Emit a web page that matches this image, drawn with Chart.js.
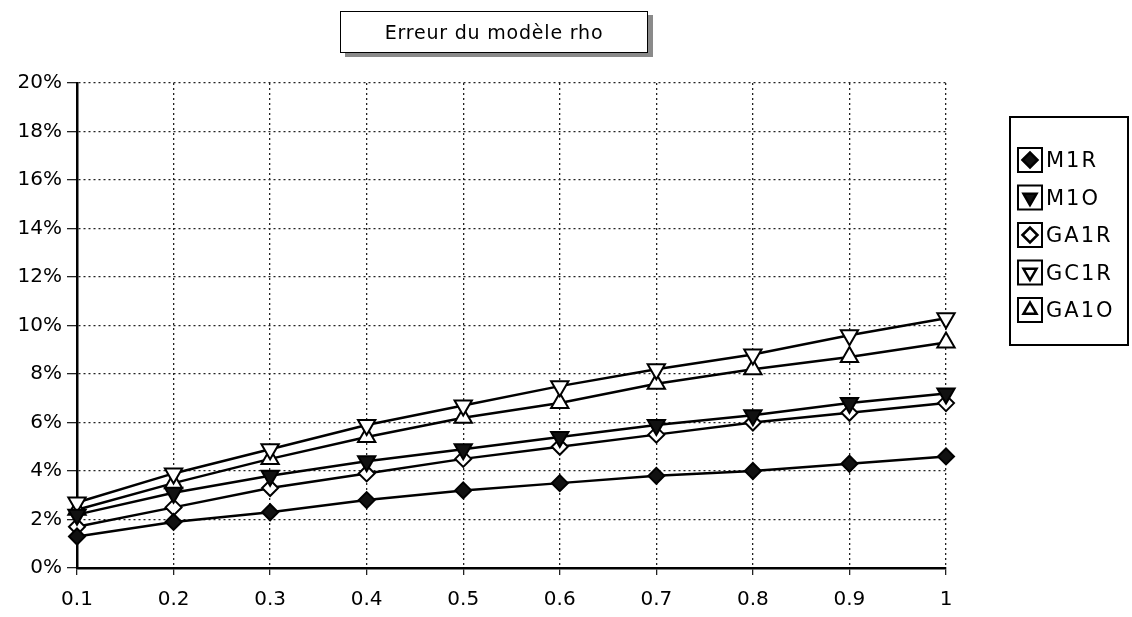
<!DOCTYPE html>
<html>
<head>
<meta charset="utf-8">
<script src="https://cdn.jsdelivr.net/npm/chart.js@4.4.0/dist/chart.umd.min.js"></script>
<style>
  body { margin: 0; background: #fff; }
  #wrap { position: relative; width: 1132px; height: 617px; }
  #title {
    position: absolute; left: 340px; top: 11px; width: 306px; height: 40px;
    border: 1.5px solid #000; background: #fff;
    box-shadow: 5px 4px 0 #8a8a8a;
    font: 19px "DejaVu Sans", sans-serif; letter-spacing: 0.8px;
    text-align: center; line-height: 40px;
  }
</style>
</head>
<body>
<div id="wrap">
  <canvas id="chart" width="1132" height="617"></canvas>
  <div id="title">Erreur du modèle rho</div>
</div>
<script>
const labels = ['0.1', '0.2', '0.3', '0.4', '0.5', '0.6', '0.7', '0.8', '0.9', '1'];

const m1r  = [1.3, 1.9, 2.3, 2.8, 3.2, 3.5, 3.8, 4.0, 4.3, 4.6];
const m1o  = [2.2, 3.1, 3.8, 4.4, 4.9, 5.4, 5.9, 6.3, 6.8, 7.2];
const ga1r = [1.7, 2.5, 3.3, 3.9, 4.5, 5.0, 5.5, 6.0, 6.4, 6.8];
const gc1r = [2.7, 3.9, 4.9, 5.9, 6.7, 7.5, 8.2, 8.8, 9.6, 10.3];
const ga1o = [2.4, 3.5, 4.5, 5.4, 6.2, 6.8, 7.6, 8.2, 8.7, 9.3];

const series = [
    { name: 'M1R',  data: m1r,  style: 'rectRot',  rot: 0,   fill: '#111', r: 8 },
    { name: 'M1O',  data: m1o,  style: 'triangle', rot: 180, fill: '#111', r: 10 },
    { name: 'GA1R', data: ga1r, style: 'rectRot',  rot: 0,   fill: '#fff', r: 8 },
    { name: 'GC1R', data: gc1r, style: 'triangle', rot: 180, fill: '#fff', r: 10 },
    { name: 'GA1O', data: ga1o, style: 'triangle', rot: 0,   fill: '#fff', r: 10 }
];

const FONT = '"DejaVu Sans", sans-serif';

// legend drawn by hand: a framed box with each marker in its own little square
const boxLegend = {
    id: 'boxLegend',
    afterDraw(chart) {
        const ctx = chart.ctx;
        const x0 = 1010, y0 = 117, w = 118, h = 228;
        ctx.save();
        ctx.strokeStyle = '#000';
        ctx.lineWidth = 2;
        ctx.strokeRect(x0, y0, w, h);
        ctx.font = '21px ' + FONT;
        ctx.letterSpacing = '2px';
        ctx.textBaseline = 'middle';
        series.forEach((s, i) => {
            const cy = y0 + 43 + i * 37.5;
            ctx.lineWidth = 2;
            ctx.strokeStyle = '#000';
            ctx.fillStyle = '#fff';
            ctx.fillRect(1018, cy - 12, 24, 24);
            ctx.strokeRect(1018, cy - 12, 24, 24);
            ctx.fillStyle = s.fill;
            ctx.lineWidth = 2.5;
            Chart.helpers.drawPoint(ctx, { pointStyle: s.style, rotation: s.rot, radius: 7.5, borderWidth: 2.5 }, 1030, cy);
            ctx.fillStyle = '#000';
            ctx.fillText(s.name, 1046, cy + 2);
        });
        ctx.restore();
    }
};

new Chart(document.getElementById('chart'), {
    type: 'line',
    data: {
        labels: labels,
        datasets: series.map(s => ({
            label: s.name,
            data: s.data,
            borderColor: '#000',
            borderWidth: 2.5,
            pointStyle: s.style,
            rotation: s.rot,
            pointRadius: s.r,
            pointBorderWidth: 2,
            pointBorderColor: '#000',
            pointBackgroundColor: s.fill,
            tension: 0
        }))
    },
    options: {
        responsive: false,
        animation: false,
        layout: { padding: { left: 0, top: 83, right: 186, bottom: 0 } },
        plugins: { legend: { display: false }, tooltip: { enabled: false } },
        scales: {
            x: {
                offset: false,
                grid: { color: '#222', lineWidth: 1.3, tickLength: 7 },
                border: { display: true, color: '#000', width: 2.5, dash: [2, 3] },
                ticks: { color: '#000', font: { family: FONT, size: 20 }, padding: 13, maxRotation: 0 },
                afterFit: (a) => { a.height = 49; }
            },
            y: {
                min: 0, max: 20,
                grid: { color: '#222', lineWidth: 1.3, tickLength: 10 },
                border: { display: true, color: '#000', width: 2.5, dash: [2, 3] },
                ticks: { stepSize: 2, color: '#000', font: { family: FONT, size: 20 }, padding: 5,
                         callback: v => v + '%' },
                afterFit: (a) => { a.width = 77; }
            }
        }
    },
    plugins: [boxLegend]
});
</script>
</body>
</html>
